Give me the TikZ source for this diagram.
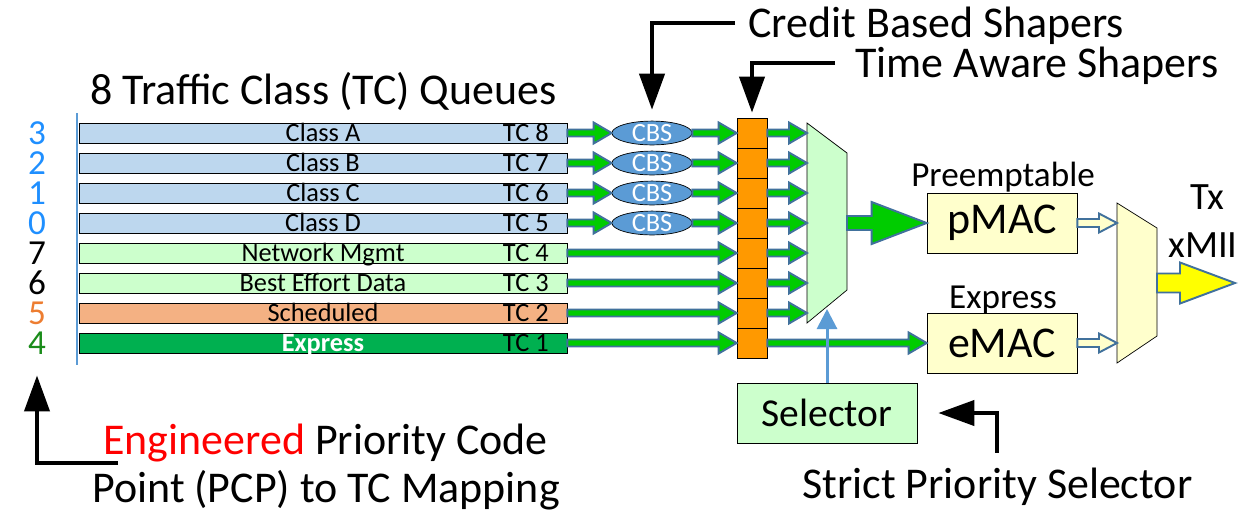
\documentclass[tikz,border=0pt]{standalone}
\usepackage{fontspec}
\setmainfont{Carlito}
\usetikzlibrary{shapes.geometric,arrows.meta,calc}

\definecolor{barblue}{HTML}{BDD7EE}
\definecolor{bargreen}{HTML}{CCFFCC}
\definecolor{barorange}{HTML}{F4B183}
\definecolor{barexp}{HTML}{00B050}
\definecolor{pcpblue}{HTML}{1F8FFF}
\definecolor{pcporange}{HTML}{ED7D31}
\definecolor{pcpgreen}{HTML}{1A8C1A}
\definecolor{arrgreen}{HTML}{00CC00}
\definecolor{arrline}{HTML}{41719C}
\definecolor{cbsblue}{HTML}{5B9BD5}
\definecolor{tasorange}{HTML}{FF9900}
\definecolor{macyellow}{HTML}{FFFFCC}
\definecolor{outyellow}{HTML}{FFFF00}

\tikzset{
  fat/.style n args={3}{to path={let \p1=(\tikztostart), \p2=(\tikztotarget) in
      (\x1,\y1+#1) -- (\x2-#3,\y1+#1) -- (\x2-#3,\y1+#2) -- (\x2,\y1)
      -- (\x2-#3,\y1-#2) -- (\x2-#3,\y1-#1) -- (\x1,\y1-#1) -- cycle}},
  flow/.style={draw=arrline, line width=1.1pt, fill=arrgreen, fat={0.07cm}{0.21cm}{0.36cm}},
  bigflow/.style={flow, fat={0.14cm}{0.42cm}{1.1cm}},
  macflow/.style={flow, fill=macyellow, fat={0.08cm}{0.19cm}{0.36cm}},
  outflow/.style={flow, fill=outyellow, fat={0.19cm}{0.41cm}{1.1cm}},
  bar/.style={draw, thin, inner sep=0, minimum width=9.76cm, minimum height=0.4cm,
    font=\fontsize{15}{18}\selectfont, text height=9.6pt, text depth=0pt},
  tclabel/.style={inner sep=0, anchor=east, font=\fontsize{15}{18}\selectfont, text height=9.6pt, text depth=0pt},
  pcpnum/.style={inner sep=0, font=\fontsize{20}{22}\selectfont, text height=12.6pt, text depth=0pt},
  cbs/.style={ellipse, draw, thin, fill=cbsblue, text=white, inner sep=0, minimum width=1.6cm,
    minimum height=0.4cm, font=\fontsize{15}{18}\selectfont, text height=9.6pt, text depth=0pt},
  tas/.style={draw, thin, fill=tasorange, inner sep=0, minimum size=0.6cm},
  mac/.style={draw, thin, fill=macyellow, minimum width=3cm, minimum height=1.2cm,
    font=\fontsize{25}{30}\selectfont},
  big/.style={inner sep=0, anchor=west, font=\fontsize{25}{30}\selectfont, text height=16pt, text depth=0pt},
  mid/.style={inner sep=0, font=\fontsize{20}{24}\selectfont, text height=12.8pt, text depth=0pt},
  pointer/.style={draw=black, line width=2.3pt, -{Triangle[length=0.72cm,width=0.5cm]}},
  ctrl/.style={draw=cbsblue, line width=1.7pt, -{Triangle[length=0.4cm,width=0.4cm]}}
}

\begin{document}
\begin{tikzpicture}[x=0.02cm,y=-0.02cm]
  \useasboundingbox (0,0) rectangle (1260,515);
  \draw[cbsblue, line width=1.7pt] (77,113) -- (77,365);
  \foreach \i/\cls/\tc/\fc/\pcp/\nc in {1/Class A/8/barblue/3/pcpblue, 2/Class B/7/barblue/2/pcpblue,
      3/Class C/6/barblue/1/pcpblue, 4/Class D/5/barblue/0/pcpblue, 5/Network Mgmt/4/bargreen/7/black,
      6/Best Effort Data/3/bargreen/6/black, 7/Scheduled/2/barorange/5/pcporange,
      8/{\color{white}\bfseries Express}/1/barexp/4/pcpgreen}{
    \pgfmathsetmacro\yy{103+30*\i}
    \node[pcpnum, text=\nc] (p\i) at (37,\yy) {\pcp};
    \node[bar, fill=\fc] (q\i) at (323,\yy) {\cls};
    \node[tclabel] (tc\i) at (549,\yy) {TC \tc};
    \node[tas] (t\i) at (752,\yy) {};
  }
  \foreach \i in {1,...,4}{
    \node[cbs] (c\i) at (652,103+30*\i) {CBS};
    \draw[flow] (q\i.east) to (c\i.west);
    \draw[flow] (c\i.east) to (t\i.west);
  }
  \foreach \i in {5,...,8}
    \draw[flow] (q\i.east) to (t\i.west);

  \draw[thin, fill=bargreen] (807,123) coordinate (mux1) -- (847,153) -- (847,290) -- (807,323) -- cycle;
  \coordinate (mux1out) at (847,223);
  \foreach \i in {1,...,7}
    \draw[flow] (t\i.east) to (t\i.east -| mux1);

  \node[mac] (pmac) at (1002,223) {pMAC};
  \node[mac] (emac) at (1002,343) {eMAC};
  \node[mid] (pre) at (1003,175) {Preemptable};
  \node[mid] (exp) at (1003,297) {Express};
  \draw[bigflow] (mux1out) to (pmac.west);
  \draw[flow] (t8.east) to (emac.west);

  \draw[thin, fill=macyellow] (1117,203) coordinate (mux2) -- (1157,228) -- (1157,336) -- (1117,363) -- cycle;
  \coordinate (mux2out) at (1157,283);
  \coordinate (txout) at (1235,283);
  \draw[macflow] (pmac.east) to (pmac.east -| mux2);
  \draw[macflow] (emac.east) to (emac.east -| mux2);
  \draw[outflow] (mux2out) to (txout);
  \node[inner sep=0, font=\fontsize{22}{26}\selectfont] (tx) at (1207,197) {Tx};
  \node[inner sep=0, font=\fontsize{22}{26}\selectfont] (xmii) at (1203,245) {xMII};

  \node[draw, thin, fill=bargreen, minimum width=3.6cm, minimum height=1.2cm,
    font=\fontsize{22.5}{27}\selectfont] (sel) at (827,413) {Selector};
  \coordinate (muxsel) at (827,309);
  \draw[ctrl] (sel.north) -- (muxsel);

  \node[big] (queues) at (90,90) {8 Traffic Class (TC) Queues};
  \node[big] (cbstxt) at (748,23) {Credit Based Shapers};
  \node[big] (tastxt) at (855,63) {Time Aware Shapers};
  \node[big] (sptxt) at (802,484) {Strict Priority Selector};
  \node[big] (engtxt) at (103,440) {{\color{red}Engineered} Priority Code};
  \node[big] (pcptxt) at (92,488) {Point (PCP) to TC Mapping};
  \coordinate (pcpfoot) at (118,463);

  \draw[pointer] ([xshift=-0.26cm]cbstxt.west) -| ([yshift=0.22cm]c1.north);
  \draw[pointer] ([xshift=-0.4cm]tastxt.west) -| ([yshift=0.1cm]t1.north);
  \draw[pointer] ([yshift=0.34cm]sptxt.north) |- ([xshift=0.42cm]sel.east);
  \draw[pointer] (pcpfoot) -| ([yshift=-0.42cm]p8.south);
\end{tikzpicture}
\end{document}
